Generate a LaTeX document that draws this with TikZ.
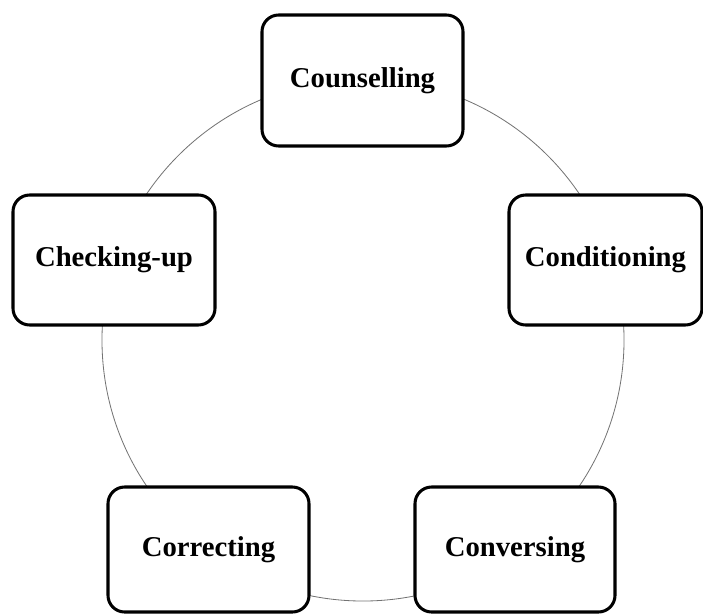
\documentclass[tikz,border=0pt]{standalone}
\usepackage{fontspec}
\setmainfont{Liberation Serif}
\usetikzlibrary{positioning,backgrounds}

\begin{document}
\begin{tikzpicture}[
    x=0.03cm, y=-0.03cm,
    stage/.style={rectangle, rounded corners=0.5cm, draw=black, line width=2.6pt, fill=white, minimum width=6cm, minimum height=3.9cm, font=\fontsize{24.5}{29}\selectfont\bfseries},
    ring/.style={draw=black!55, line width=0.7pt},
]
\useasboundingbox (0,0) rectangle (703,613);

% Centre of the cycle
\coordinate (hub) at (363,340);

% Stages
\node[stage, minimum width=6.03cm, minimum height=3.93cm] (counsel) at (362.5,80.5) {Counselling};
\node[stage, minimum width=5.79cm] (condition) at (605.5,260) {Conditioning};
\node[stage, minimum height=3.75cm] (converse) at (515,549.5) {Conversing};
\node[stage, minimum width=6.03cm, minimum height=3.75cm] (correct) at (208.5,549.5) {Correcting};
\node[stage, minimum width=6.06cm] (check) at (114,260) {Checking-up};

% Cycle behind the stages
\begin{scope}[on background layer]
\draw[ring] (hub) circle[radius=7.83cm];
\end{scope}

\end{tikzpicture}
\end{document}
